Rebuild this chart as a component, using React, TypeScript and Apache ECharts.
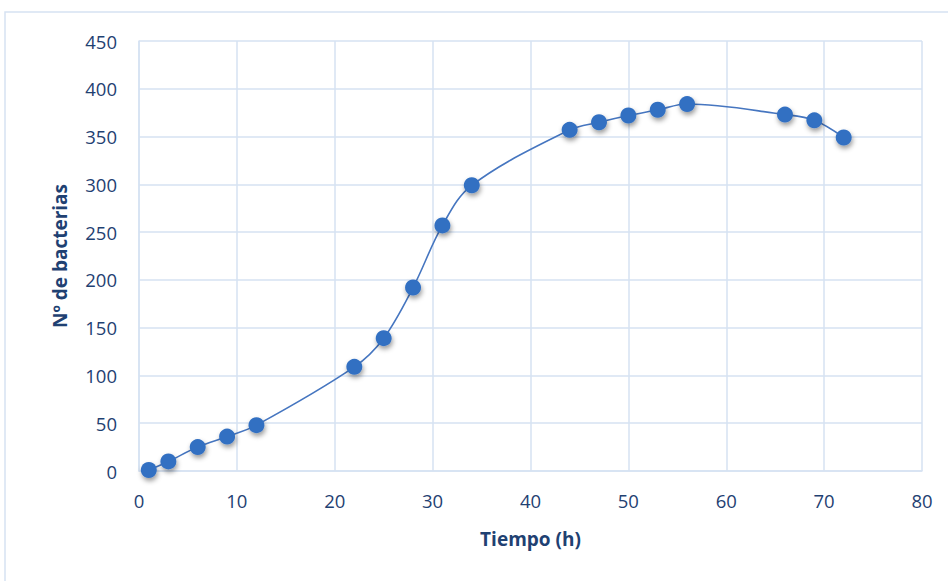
import React, { useEffect, useRef } from "react";
import * as echarts from "echarts";

const tiempo = [1, 3, 6, 9, 12, 22, 25, 28, 31, 34, 44, 47, 50, 53, 56, 66, 69, 72];
const bacterias = [1, 10, 25, 36, 48, 109, 139, 192, 257, 299, 357, 365, 372, 378, 384, 373, 367, 349];
const xTicks = { min: 0, max: 80, interval: 10 };
const yTicks = { min: 0, max: 450, interval: 50 };

export default function App() {
  const ref = useRef<HTMLDivElement>(null);
  useEffect(() => {
    document.body.style.margin = "0";
    const chart = echarts.init(ref.current!, null, { renderer: "svg" });
    const labelColor = "#1f4172";
    chart.setOption({
      animation: false,
      backgroundColor: "#ffffff",
      textStyle: { fontFamily: "Open Sans" },
      graphic: [
        {
          type: "rect",
          shape: { x: 5, y: 12, width: 1000, height: 700 },
          style: { fill: "none", stroke: "#d6e2f2", lineWidth: 1.5 },
          silent: true,
        },
      ],
      grid: { left: 139, right: 26, top: 41, bottom: 110 },
      xAxis: {
        type: "value",
        ...xTicks,
        name: "Tiempo (h)",
        nameLocation: "middle",
        nameGap: 58,
        nameTextStyle: { color: labelColor, fontSize: 19, fontWeight: "bold", fontFamily: "Open Sans" },
        axisLine: { show: true, lineStyle: { color: "#d6e2f2", width: 1.5 } },
        axisTick: { show: false },
        axisLabel: { color: labelColor, fontSize: 18.5, margin: 20, fontFamily: "Open Sans" },
        splitLine: { show: true, lineStyle: { color: "#d6e2f2", width: 1.5 } },
      },
      yAxis: {
        type: "value",
        ...yTicks,
        name: "Nº de bacterias",
        nameLocation: "middle",
        nameGap: 70,
        nameRotate: 90,
        nameTextStyle: { color: labelColor, fontSize: 19, fontWeight: "bold", fontFamily: "Open Sans" },
        axisLine: { show: true, lineStyle: { color: "#d6e2f2", width: 1.5 } },
        axisTick: { show: false },
        axisLabel: { color: labelColor, fontSize: 18.5, margin: 22, fontFamily: "Open Sans" },
        splitLine: { show: true, lineStyle: { color: "#d6e2f2", width: 1.5 } },
      },
      series: [
        {
          type: "line",
          data: tiempo.map((t, i) => [t, bacterias[i]]),
          smooth: 0.35,
          symbol: "circle",
          symbolSize: 16,
          lineStyle: { color: "#4676c0", width: 1.6 },
          itemStyle: {
            color: "#3370c2",
            shadowColor: "rgba(0,0,0,0.4)",
            shadowBlur: 5,
            shadowOffsetX: 1,
            shadowOffsetY: 3,
          },
        },
      ],
    });
    return () => chart.dispose();
  }, []);
  return <div ref={ref} style={{ width: 948, height: 581 }} />;
}
